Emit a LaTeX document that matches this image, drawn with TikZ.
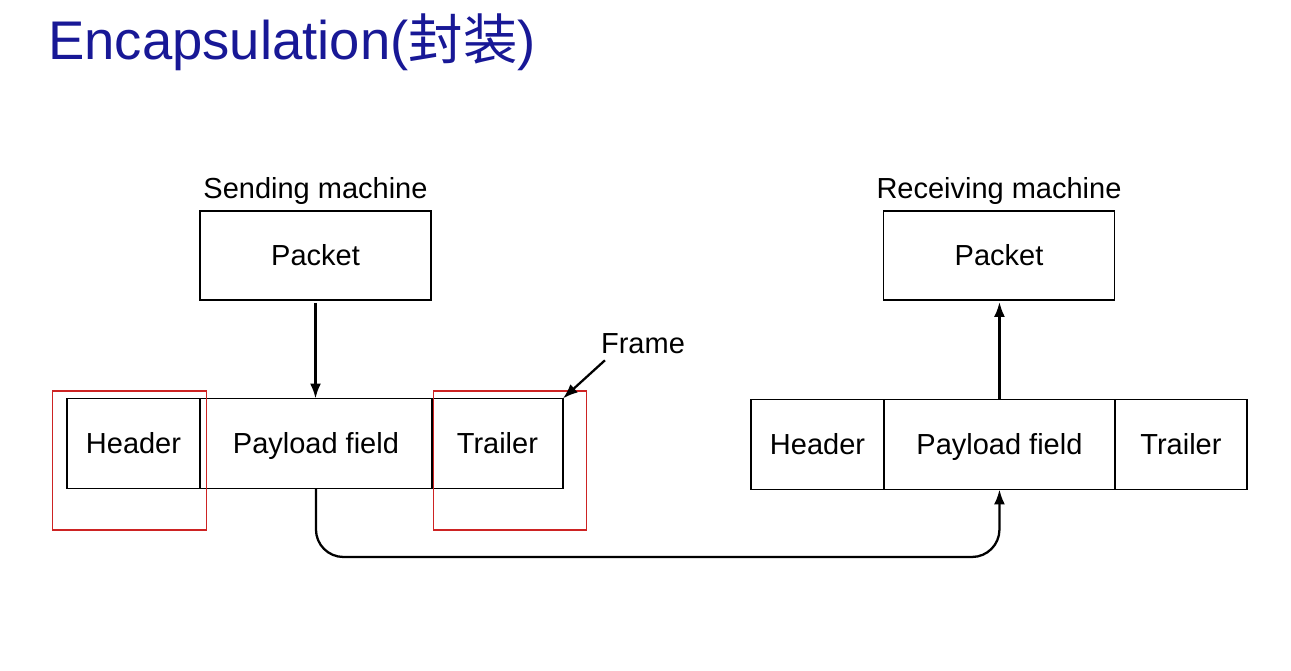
\documentclass[tikz,border=0pt]{standalone}
\usepackage{fontspec}
\setmainfont{Liberation Sans}
\newfontfamily\cjk{Noto Sans CJK SC}
\usetikzlibrary{arrows.meta, positioning}
\definecolor{bleuTitre}{RGB}{24, 24, 150}
\definecolor{rougeCadre}{RGB}{205, 35, 35}

\begin{document}
\begin{tikzpicture}[x=0.02cm, y=-0.02cm,
  box/.style={rectangle, draw, line width=0.85pt, minimum height=1.8cm,
    inner sep=0pt, outer sep=0pt, text height=11.8pt, text depth=0pt,
    font=\fontsize{16.5}{18}\selectfont},
  pkt/.style={box, minimum width=4.62cm, minimum height=1.78cm},
  fld/.style={box, anchor=west},
  cadre/.style={rectangle, draw=rougeCadre, line width=0.6pt,
    minimum width=3.07cm, minimum height=2.78cm, inner sep=0pt},
  arr/.style={-{Latex[length=3mm, width=2.2mm]}, line width=1.3pt},
  lbl/.style={font=\fontsize{16.5}{18}\selectfont},
]
\useasboundingbox (0,0) rectangle (1291,671);

% titre
\node[anchor=base west, inner sep=0pt, text=bleuTitre,
  font=\fontsize{31}{36}\selectfont] (titre) at (48,60)
  {Encapsulation({\cjk 封装})};

% machine emettrice
\node[pkt] (pktE) at (315.5,255.5) {Packet};
\node[lbl, above=0pt of pktE] (nomE) {Sending machine};
\node[box, minimum width=2.66cm] (hdrE) at (133.5,443.5) {Header};
\node[fld, minimum width=4.64cm] (payE) at (hdrE.east) {Payload field};
\node[fld, minimum width=2.62cm] (trlE) at (payE.east) {Trailer};

% cadres rouges
\node[cadre] (cadreH) at (129.5,460.5) {};
\node[cadre] (cadreT) at (510,460.5) {};

\node[lbl] (frame) at (643,344) {Frame};

% machine receptrice
\node[pkt] (pktR) at (999,255.5) {Packet};
\node[lbl, above=0pt of pktR] (nomR) {Receiving machine};
\node[box, minimum width=2.66cm] (hdrR) at (817.5,444.5) {Header};
\node[fld, minimum width=4.62cm] (payR) at (hdrR.east) {Payload field};
\node[fld, minimum width=2.64cm] (trlR) at (payR.east) {Trailer};

\coordinate (bas) at (0,557);

\draw[arr] ([yshift=-0.06cm]pktE.south) -- (pktE.south |- payE.north);
\draw[arr] ([xshift=0.2cm]frame.south west) -- (trlE.north east);
\draw[arr] (payR.north) -- ([yshift=-0.04cm]payR.north |- pktR.south);
\draw[arr, rounded corners=0.55cm]
  (payE.south) -- (payE.south |- bas) -- (payR.south |- bas) -- (payR.south);
\end{tikzpicture}
\end{document}
